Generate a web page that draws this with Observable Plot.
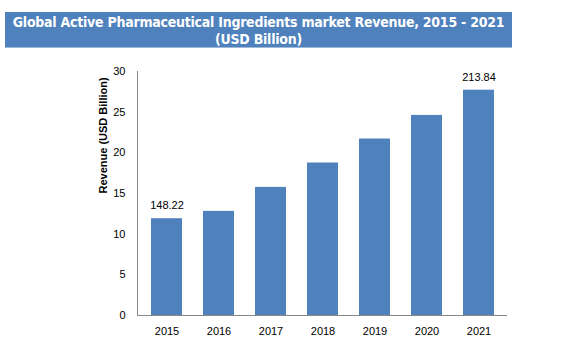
<!DOCTYPE html>
<html><head><meta charset="utf-8">
<script src="https://cdn.jsdelivr.net/npm/d3@7"></script>
<script src="https://cdn.jsdelivr.net/npm/@observablehq/plot@0.6"></script>
<style>
body{margin:0;background:#fff;width:588px;height:355px;overflow:hidden;}
#title{margin:12px 0 0 5px;width:507px;height:36px;background:#4f81bd;color:#fff;
font-family:"DejaVu Sans Condensed","DejaVu Sans",sans-serif;font-weight:bold;font-size:14px;letter-spacing:-0.25px;
line-height:17px;text-align:center;padding-top:2px;box-sizing:border-box;border-bottom:1px solid #9fb9da;white-space:nowrap;}
#chart svg{display:block;}
</style></head><body>
<div id="title">Global Active Pharmaceutical Ingredients market Revenue, 2015 - 2021<br>(USD Billion)</div>
<div id="chart"></div>
<script>
const years = ["2015","2016","2017","2018","2019","2020","2021"];
const revenue = [11.9, 12.8, 15.75, 18.75, 21.7, 24.6, 27.7];
const labels = ["148.22","","","","","","213.84"];
const yTicks = [0,5,10,15,20,25,30];
const yTitle = "Revenue (USD Billion)";

const data = years.map((y,i)=>({year:y, value:revenue[i], label:labels[i]}));
const axisColor = "#868686";
const chart = Plot.plot({
  width: 588, height: 307,
  marginTop: 23, marginBottom: 40, marginLeft: 137, marginRight: 81,
  style: {fontFamily: "'Liberation Sans', Arial, sans-serif", fontSize: "11px", color: "#000", background: "transparent"},
  x: {domain: years, paddingInner: 0.41, paddingOuter: 0.2, label: null},
  y: {domain: [0,30], ticks: yTicks, label: null},
  marks: [
    Plot.barY(data, {x: "year", y: "value", fill: "#4f81bd"}),
    Plot.axisX({tickSize: 0, tickPadding: 12, fontSize: 11}),
    Plot.axisY({ticks: yTicks, tickSize: 0, tickPadding: 12, fontSize: 11}),
    Plot.frame({anchor: "left", stroke: axisColor}),
    Plot.ruleY([0], {stroke: axisColor}),
    Plot.text(data.filter(d=>d.label), {x: "year", y: "value", text: "label", dy: -13, fontSize: 11}),
    Plot.text([yTitle], {frameAnchor: "left", dx: -34, rotate: -90, fontWeight: "bold", fontSize: 11})
  ]
});
document.getElementById("chart").appendChild(chart);
</script>
</body></html>
